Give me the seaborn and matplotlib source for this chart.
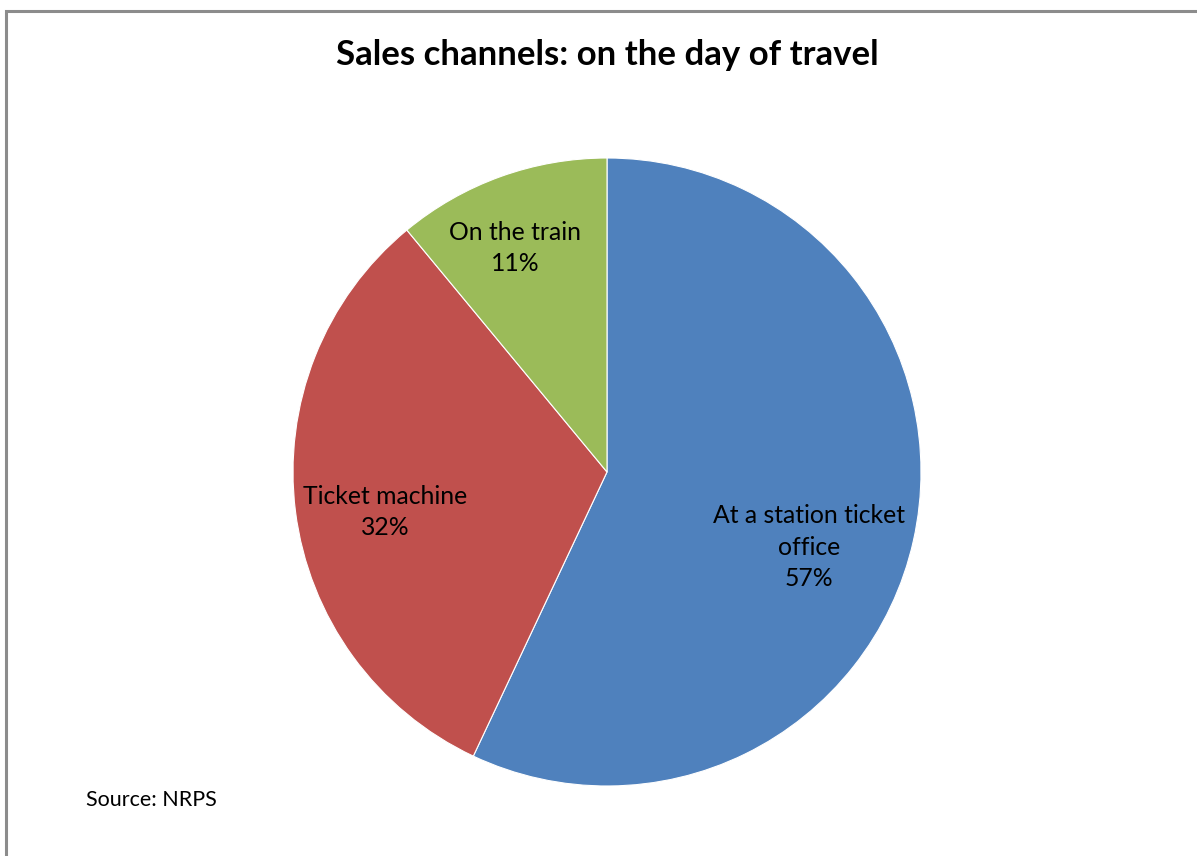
import seaborn as sns
import matplotlib.pyplot as plt
from matplotlib.patches import Rectangle

# Sales channel shares on the day of travel (%)
channels = ['At a station ticket\noffice', 'Ticket machine', 'On the train']
shares = [57, 32, 11]
colours = ['#4F81BD', '#C0504D', '#9BBB59']

sns.set_style('white')
plt.rcParams['font.family'] = ['Lato', 'DejaVu Sans']
plt.rcParams['text.color'] = 'black'

fig = plt.figure(figsize=(11.97, 8.56), dpi=100)

# Chart frame (Excel-style), running off the right and bottom edges
fig.patches.append(Rectangle((6 / 1197, -0.1), 1.2, (856 - 11) / 856 + 0.1,
                             transform=fig.transFigure, fill=False,
                             edgecolor='#8c8c8c', linewidth=2.2))

ax = fig.add_axes([(607 - 314) / 1197, (856 - 472 - 314) / 856, 628 / 1197, 628 / 856])
wedges, _ = ax.pie(shares, colors=sns.color_palette(colours), startangle=90,
                   counterclock=False, radius=1,
                   wedgeprops=dict(edgecolor='white', linewidth=0.8))
ax.set_xlim(-1, 1)
ax.set_ylim(-1, 1)
ax.set_aspect('equal')
ax.axis('off')

# data label placement inside each slice (axes data units, pie radius = 1)
label_pos = [(0.643, -0.239), (-0.707, -0.127), (-0.293, 0.713)]
for name, val, (lx, ly) in zip(channels, shares, label_pos):
    ax.text(lx, ly, f'{name}\n{val}%', ha='center', va='center',
            fontsize=17.8, linespacing=1.45, color='black')

fig.text(607 / 1197, 1 - 55 / 856, 'Sales channels: on the day of travel',
         ha='center', va='center', fontsize=25, fontweight='bold', color='black')
fig.text(86 / 1197, 1 - 800 / 856, 'Source: NRPS', ha='left', va='center',
         fontsize=15.5, color='black')

fig.savefig('out.png', dpi=100)
